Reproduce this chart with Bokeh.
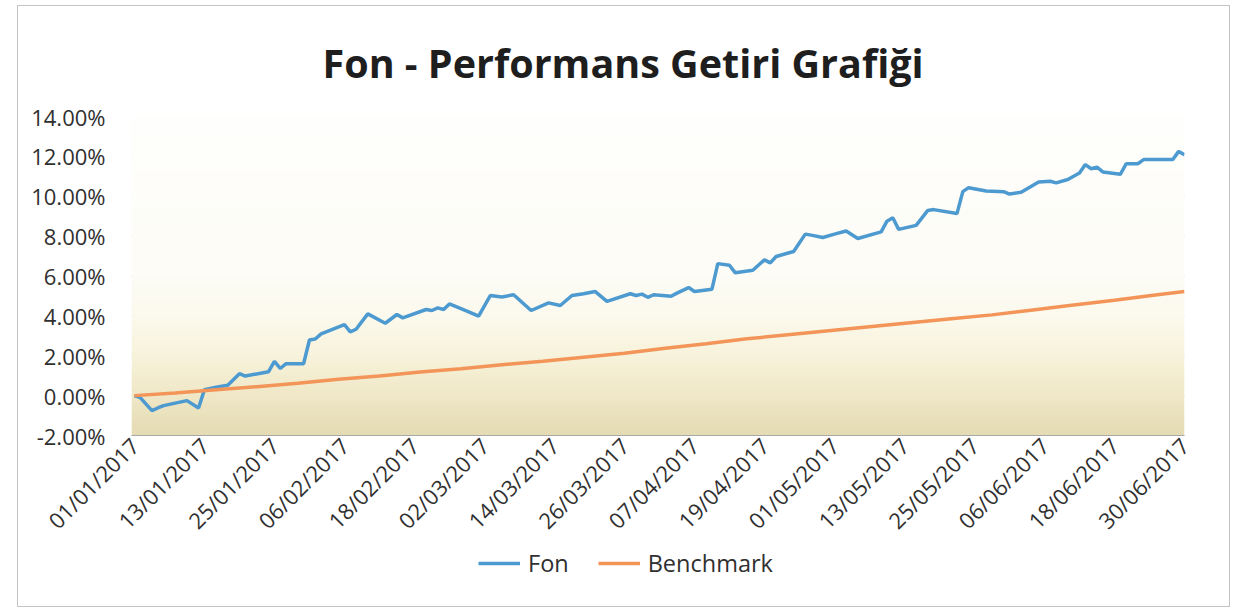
import numpy as np
from bokeh.plotting import figure
from bokeh.layouts import column
from bokeh.models import (ColumnDataSource, FixedTicker, PrintfTickFormatter,
                          Legend, LegendItem, Range1d)
from bokeh.embed import file_html
from bokeh.resources import INLINE

# ---------------- data (x = days since 01/01/2017, y = %) ----------------
tick_days = [0, 12, 24, 36, 48, 60, 72, 84, 96, 108, 120, 132, 144, 156, 168, 180]
tick_labels = ["01/01/2017", "13/01/2017", "25/01/2017", "06/02/2017", "18/02/2017",
               "02/03/2017", "14/03/2017", "26/03/2017", "07/04/2017", "19/04/2017",
               "01/05/2017", "13/05/2017", "25/05/2017", "06/06/2017", "18/06/2017",
               "30/06/2017"]

fon_day = [0, 1, 3, 4, 5, 9, 11, 12, 14, 16, 18, 19, 23, 24, 25, 26, 29, 30, 31, 32,
           36, 37, 38, 40, 43, 45, 46, 50, 51, 52, 53, 54, 57, 59, 61, 63, 65, 68, 71,
           73, 75, 77, 79, 81, 85, 86, 87, 88, 89, 92, 93, 95, 96, 99, 100, 102, 103,
           106, 108, 109, 110, 113, 115, 116, 118, 120, 122, 124, 128, 129, 130, 131,
           134, 136, 137, 141, 142, 143, 146, 149, 150, 152, 155, 157, 158, 160, 162,
           163, 164, 165, 166, 169, 170, 172, 173, 178, 179, 180]
fon_val = [0.00, -0.10, -0.75, -0.62, -0.50, -0.25, -0.62, 0.30, 0.42, 0.52, 1.10, 0.98,
           1.20, 1.72, 1.36, 1.60, 1.60, 2.79, 2.84, 3.10, 3.56, 3.20, 3.33, 4.10, 3.63,
           4.07, 3.90, 4.32, 4.27, 4.40, 4.32, 4.60, 4.24, 3.99, 5.02, 4.95, 5.06, 4.27,
           4.65, 4.52, 5.02, 5.11, 5.22, 4.73, 5.11, 5.02, 5.09, 4.93, 5.06, 4.98, 5.14,
           5.42, 5.22, 5.34, 6.62, 6.54, 6.16, 6.29, 6.81, 6.66, 6.98, 7.23, 8.10, 8.05,
           7.93, 8.10, 8.26, 7.88, 8.21, 8.75, 8.92, 8.34, 8.54, 9.29, 9.33, 9.13, 10.23,
           10.43, 10.26, 10.23, 10.11, 10.20, 10.72, 10.75, 10.67, 10.84, 11.17, 11.59,
           11.38, 11.46, 11.22, 11.10, 11.63, 11.63, 11.84, 11.84, 12.25, 12.08]

bench_day = [0, 7, 14, 21, 28, 35, 42, 49, 56, 63, 70, 77, 84, 91, 98, 105, 112, 119,
             126, 133, 140, 147, 154, 161, 168, 175, 180]
bench_val = [0.00, 0.13, 0.30, 0.45, 0.62, 0.82, 0.98, 1.18, 1.35, 1.55, 1.72, 1.93,
             2.12, 2.38, 2.60, 2.85, 3.05, 3.25, 3.45, 3.65, 3.85, 4.05, 4.30, 4.55,
             4.78, 5.05, 5.22]

y_ticks = [-2, 0, 2, 4, 6, 8, 10, 12, 14]

series_names = ["Fon", "Benchmark"]
series_colors = ["#4d9ad0", "#f39558"]
title_text = "Fon - Performans Getiri Grafiği"

# background gradient stops (style)
grad_y = [-2, 0, 2, 4, 6, 14]
grad_rgb = [(229, 219, 180), (240, 232, 199), (248, 243, 220), (252, 250, 238),
            (253, 252, 246), (255, 255, 253)]

font = "Open Sans"
W = 1211

# ---------------- main chart ----------------
p = figure(width=W, height=542, output_backend="svg", toolbar_location=None,
           x_range=Range1d(-0.5, 180), y_range=Range1d(-2, 14),
           min_border_left=113, min_border_right=45, min_border_top=107,
           min_border_bottom=542 - 107 - 324)
p.outline_line_color = None
p.background_fill_color = "white"
p.border_fill_color = "white"

p.title.text = title_text
p.title.align = "left"
p.title.offset = 191
p.title.standoff = 54
p.title.text_font = font
p.title.text_font_style = "bold"
p.title.text_font_size = "39.5px"
p.title.text_color = "#1e1e1e"

N = 160
ys = np.linspace(-2, 14, N)
img = np.zeros((N, 1), dtype=np.uint32)
view = img.view(dtype=np.uint8).reshape((N, 1, 4))
for c in range(3):
    view[:, 0, c] = np.interp(ys, grad_y, [g[c] for g in grad_rgb]).astype(np.uint8)
view[:, 0, 3] = 255
p.image_rgba(image=[img], x=-0.5, y=-2, dw=180.5, dh=16)

src_f = ColumnDataSource(dict(x=fon_day, y=fon_val))
src_b = ColumnDataSource(dict(x=bench_day, y=bench_val))
p.line("x", "y", source=src_f, line_color=series_colors[0], line_width=3.5)
p.line("x", "y", source=src_b, line_color=series_colors[1], line_width=3.5)

p.xgrid.visible = False
p.ygrid.ticker = FixedTicker(ticks=y_ticks)
p.ygrid.grid_line_color = "#a8a8a8"
p.ygrid.grid_line_width = 1

p.yaxis.ticker = FixedTicker(ticks=y_ticks)
p.yaxis.formatter = PrintfTickFormatter(format="%.2f%%")
p.yaxis.axis_line_color = None
p.yaxis.major_tick_line_color = None
p.yaxis.minor_tick_line_color = None
p.yaxis.major_label_standoff = 20
p.yaxis.major_label_text_font = font
p.yaxis.major_label_text_font_size = "22px"
p.yaxis.major_label_text_color = "#303030"

p.xaxis.ticker = FixedTicker(ticks=tick_days)
p.xaxis.major_label_overrides = {d: l for d, l in zip(tick_days, tick_labels)}
p.xaxis.major_label_orientation = np.pi / 4
p.xaxis.axis_line_color = "#a8a8a8"
p.xaxis.major_tick_line_color = None
p.xaxis.minor_tick_line_color = None
p.xaxis.major_label_standoff = 0
p.xaxis.major_label_text_font = font
p.xaxis.major_label_text_font_size = "22px"
p.xaxis.major_label_text_color = "#303030"

# ---------------- legend strip ----------------
pl = figure(width=W, height=58, output_backend="svg", toolbar_location=None,
            x_axis_type=None, y_axis_type=None, x_range=Range1d(0, 1), y_range=Range1d(0, 1),
            min_border=0)
pl.outline_line_color = None
pl.grid.visible = False
items = []
for name, col in zip(series_names, series_colors):
    # off-screen proxy line, only used to draw the legend swatch
    r = pl.line(x=[10, 11], y=[10, 11], line_color=col, line_width=3.5)
    items.append(LegendItem(label=name, renderers=[r]))
legend = Legend(items=items, orientation="horizontal", location=(347, 27),
                border_line_color=None, background_fill_alpha=0,
                padding=0, margin=0, spacing=29, label_standoff=8,
                glyph_width=42, glyph_height=20, label_height=20,
                label_text_font=font, label_text_font_size="23.5px",
                label_text_color="#303030")
pl.add_layout(legend)

layout = column(p, pl, spacing=0)
layout.styles = {"border": "1px solid #c4c4c4", "margin-left": "17px", "margin-top": "5px"}

open("out.html", "w").write(file_html(layout, INLINE))
